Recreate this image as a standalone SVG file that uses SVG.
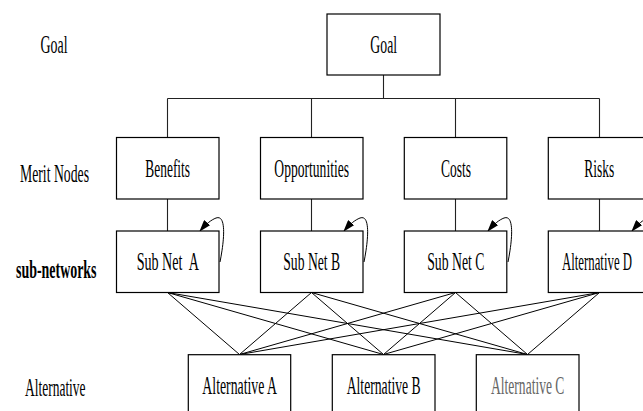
<svg xmlns="http://www.w3.org/2000/svg" width="643" height="411" viewBox="0 0 643 411">
<style>
.box{fill:#fff;stroke:#000;stroke-width:1.2}
.t{font-family:"Liberation Serif","Times New Roman",serif;font-size:25px;fill:#000;text-anchor:middle}
.lbl{font-family:"Liberation Serif","Times New Roman",serif;font-size:25px;fill:#000;text-anchor:middle}
.tree{stroke:#222;stroke-width:1.1;fill:none}
.link{stroke:#000;stroke-width:1;fill:none}
.loop{stroke:#000;stroke-width:1;fill:none;marker-end:url(#ah)}
</style>
<defs>
<marker id="ah" markerWidth="12" markerHeight="8" refX="11" refY="4" orient="auto" markerUnits="userSpaceOnUse">
<path d="M0,0 L12,4 L0,8 Z" fill="#000"/>
</marker>
</defs>
<rect width="643" height="411" fill="#fff"/>

<g id="labels">
<text class="lbl" x="54" y="52.5" textLength="27" lengthAdjust="spacingAndGlyphs">Goal</text>
<text class="lbl" x="54.5" y="181.5" textLength="69" lengthAdjust="spacingAndGlyphs">Merit Nodes</text>
<text class="lbl" x="56.3" y="277.5" font-weight="bold" textLength="80.5" lengthAdjust="spacingAndGlyphs">sub-networks</text>
<text class="lbl" x="55.3" y="395.5" textLength="60.5" lengthAdjust="spacingAndGlyphs">Alternative</text>
</g>

<g id="connectors">
<path class="tree" d="M383.5,75 V98.5 M167.5,98.5 H599.5 M167.5,98.5 V137.5 M311.5,98.5 V137.5 M455.5,98.5 V137.5 M599.5,98.5 V137.5"/>
<path class="tree" d="M167.5,199 V231 M311.5,199 V231 M455.5,199 V231 M599.5,199 V231"/>
<path class="link" d="M167.5,292.5 L239.5,354.5 M167.5,292.5 L383.5,354.5 M167.5,292.5 L527.5,354.5
M311.5,292.5 L239.5,354.5 M311.5,292.5 L383.5,354.5 M311.5,292.5 L527.5,354.5
M455.5,292.5 L239.5,354.5 M455.5,292.5 L383.5,354.5 M455.5,292.5 L527.5,354.5
M599.5,292.5 L239.5,354.5 M599.5,292.5 L383.5,354.5 M599.5,292.5 L527.5,354.5"/>
<path class="loop" d="M220,262 C224,242 227,214 216,218 C211,220 206,224 200,231"/>
<path class="loop" d="M364,262 C368,242 371,214 360,218 C355,220 350,224 344,231"/>
<path class="loop" d="M508,262 C512,242 515,214 504,218 C499,220 494,224 488,231"/>
<path class="loop" d="M652,262 C656,242 659,214 648,218 C643,220 638,224 632,231"/>
</g>

<g id="goal">
<rect class="box" x="327" y="14" width="113" height="61"/>
<text class="t" x="383.7" y="52.5" textLength="26.7" lengthAdjust="spacingAndGlyphs">Goal</text>
</g>

<g id="benefits">
<rect class="box" x="116.5" y="137.5" width="102.5" height="61.5"/>
<text class="t" x="167.7" y="176.5" textLength="44.7" lengthAdjust="spacingAndGlyphs">Benefits</text>
</g>
<g id="opportunities">
<rect class="box" x="260.5" y="137.5" width="102.5" height="61.5"/>
<text class="t" x="311.7" y="176.5" textLength="74.7" lengthAdjust="spacingAndGlyphs">Opportunities</text>
</g>
<g id="costs">
<rect class="box" x="404.3" y="137.5" width="102.5" height="61.5"/>
<text class="t" x="456" y="176.5" textLength="30" lengthAdjust="spacingAndGlyphs">Costs</text>
</g>
<g id="risks">
<rect class="box" x="548.3" y="137.5" width="102.5" height="61.5"/>
<text class="t" x="599.3" y="176.5" textLength="30" lengthAdjust="spacingAndGlyphs">Risks</text>
</g>

<g id="subnetA">
<rect class="box" x="116.5" y="231" width="102.5" height="61.5"/>
<text class="t" x="167.8" y="270" textLength="62.3" lengthAdjust="spacingAndGlyphs">Sub Net&#160; A</text>
</g>
<g id="subnetB">
<rect class="box" x="260.5" y="231" width="102.5" height="61.5"/>
<text class="t" x="311.7" y="270" textLength="57" lengthAdjust="spacingAndGlyphs">Sub Net B</text>
</g>
<g id="subnetC">
<rect class="box" x="404.3" y="231" width="102.5" height="61.5"/>
<text class="t" x="455.8" y="270" textLength="57.3" lengthAdjust="spacingAndGlyphs">Sub Net C</text>
</g>
<g id="alternativeD">
<rect class="box" x="548.3" y="231" width="102.5" height="61.5"/>
<text class="t" x="597" y="270" textLength="70" lengthAdjust="spacingAndGlyphs">Alternative D</text>
</g>

<g id="alternativeA">
<rect class="box" x="188.3" y="354.7" width="102.4" height="62"/>
<text class="t" x="239.7" y="394.3" textLength="74.7" lengthAdjust="spacingAndGlyphs">Alternative A</text>
</g>
<g id="alternativeB">
<rect class="box" x="332.3" y="354.7" width="102.7" height="62"/>
<text class="t" x="383.7" y="394.3" textLength="74" lengthAdjust="spacingAndGlyphs">Alternative B</text>
</g>
<g id="alternativeC">
<rect class="box" x="476.3" y="354.7" width="102.7" height="62"/>
<text class="t" x="527.7" y="394.3" textLength="73.3" lengthAdjust="spacingAndGlyphs" style="fill:#666">Alternative C</text>
</g>
</svg>
